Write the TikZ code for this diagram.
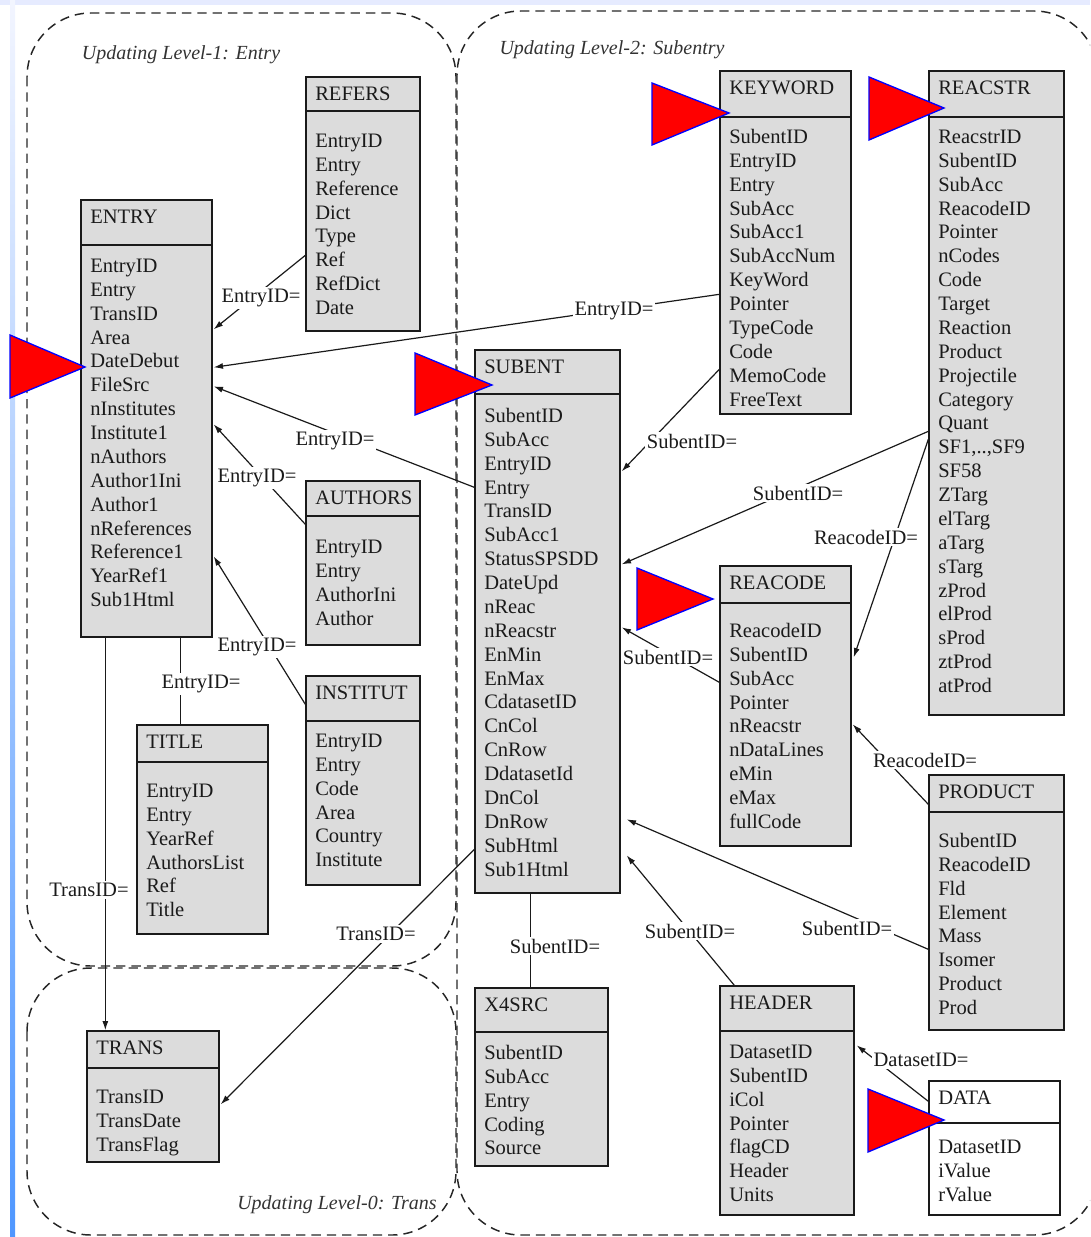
\documentclass[tikz,border=0pt]{standalone}
\usepackage{fontspec}
\setmainfont{Liberation Serif}
\usetikzlibrary{fit,calc,arrows.meta}
\definecolor{boxgray}{HTML}{DCDCDC}
\definecolor{inkc}{HTML}{1A1A1A}
\definecolor{stripblue}{HTML}{4F97FF}
\definecolor{bandblue}{HTML}{E6EBFF}
\tikzset{
  tbox/.style={draw=inkc, line width=1pt, inner sep=0pt},
  ttl/.style={anchor=base west, inner sep=0pt, text=inkc, font=\fontsize{15.4}{18}\selectfont},
  lbl/.style={fill=white, inner sep=1.5pt, text=inkc, font=\fontsize{15.4}{18}\selectfont},
  conn/.style={line width=0.9pt, draw=inkc},
  arr/.style={conn, -{Latex[length=7pt,width=4.5pt]}},
  region/.style={dash pattern=on 7pt off 4.5pt, line width=1.1pt, draw=black!85, rounded corners=48pt},
  flag/.style={fill=red, draw=blue, line width=1pt},
  regtitle/.style={inner sep=0pt, text=black!80, font=\fontsize{15}{18}\selectfont\itshape},
}
\def\dbparse#1/#2/#3/#4/#5/#6\relax{\def\dbL{#1}\def\dbT{#2}\def\dbR{#3}\def\dbB{#4}\def\dbS{#5}\def\dbF{#6}}
\newcommand\dbt[5][boxgray]{%
  \dbparse#3\relax
  \node[tbox, fill=#1, fit={(\dbL,\dbT) (\dbR,\dbB)}] (#2) {};
  \draw[tbox] (\dbL,\dbS) -- (\dbR,\dbS);
  \node[ttl] (#2-title) at (\dbL+9,\dbT+23.5) {#4};
  \foreach \rw [count=\i from 0] in {#5} {\node[ttl] (#2-r\i) at (\dbL+9,\dbF+6.5+\i*23.87) {\rw};}
}
\begin{document}
\begin{tikzpicture}[x=0.75pt,y=-0.75pt]
\useasboundingbox (0,0) rectangle (1090,1237);
\clip (0,0) rectangle (1090,1237);
% background bands
\fill[bandblue] (0,0) rectangle (1090,5);
\shade[top color=bandblue!50, bottom color=stripblue] (10,0) rectangle (15,1237);
% regions
\draw[region] (27,13) rectangle (456,966);
\draw[region] (27,968) rectangle (456,1235);
\draw[region] (457,11) rectangle (1098,1235);
\node[regtitle] (lev1) at (181,55) {Updating Level-1: Entry};
\node[regtitle] (lev2) at (612,50) {Updating Level-2: Subentry};
\node[regtitle] (lev0) at (337,1205) {Updating Level-0: Trans};
% tables
\dbt{entry}{81/200/212/637/245/266}{ENTRY}{EntryID,Entry,TransID,Area,DateDebut,FileSrc,nInstitutes,Institute1,nAuthors,Author1Ini,Author1,nReferences,Reference1,YearRef1,Sub1Html}
\dbt{refers}{306/77/420/331/111/141}{REFERS}{EntryID,Entry,Reference,Dict,Type,Ref,RefDict,Date}
\dbt{authors}{306/481/420/645/516/547}{AUTHORS}{EntryID,Entry,AuthorIni,Author}
\dbt{institut}{306/676/420/885/721/741}{INSTITUT}{EntryID,Entry,Code,Area,Country,Institute}
\dbt{title}{137/725/268/934/762/791}{TITLE}{EntryID,Entry,YearRef,AuthorsList,Ref,Title}
\dbt{trans}{87/1031/219/1162/1068/1097}{TRANS}{TransID,TransDate,TransFlag}
\dbt{subent}{475/350/620/893/394/416}{SUBENT}{SubentID,SubAcc,EntryID,Entry,TransID,SubAcc1,StatusSPSDD,DateUpd,nReac,nReacstr,EnMin,EnMax,CdatasetID,CnCol,CnRow,DdatasetId,DnCol,DnRow,SubHtml,Sub1Html}
\dbt{keyword}{720/71/851/414/117/137}{KEYWORD}{SubentID,EntryID,Entry,SubAcc,SubAcc1,SubAccNum,KeyWord,Pointer,TypeCode,Code,MemoCode,FreeText}
\dbt{reacstr}{929/71/1064/715/117/137}{REACSTR}{ReacstrID,SubentID,SubAcc,ReacodeID,Pointer,nCodes,Code,Target,Reaction,Product,Projectile,Category,Quant,{SF1,..,SF9},SF58,ZTarg,elTarg,aTarg,sTarg,zProd,elProd,sProd,ztProd,atProd}
\dbt{reacode}{720/566/851/846/603/631}{REACODE}{ReacodeID,SubentID,SubAcc,Pointer,nReacstr,nDataLines,eMin,eMax,fullCode}
\dbt{product}{929/775/1064/1030/812/841}{PRODUCT}{SubentID,ReacodeID,Fld,Element,Mass,Isomer,Product,Prod}
\dbt{x4src}{475/988/608/1166/1032/1053}{X4SRC}{SubentID,SubAcc,Entry,Coding,Source}
\dbt{header}{720/986/854/1215/1031/1052}{HEADER}{DatasetID,SubentID,iCol,Pointer,flagCD,Header,Units}
\dbt[white]{data}{929/1081/1060/1215/1123/1147}{DATA}{DatasetID,iValue,rValue}
% connectors
\draw[arr] ($(refers.north west)+(0,179)$) -- ($(entry.north east)+(1,130)$);
\draw[arr] ($(keyword.north west)+(0,224)$) -- ($(entry.north east)+(1,168)$);
\draw[arr] ($(subent.north west)+(0,138)$) -- ($(entry.north east)+(1,187)$);
\draw[arr] ($(authors.north west)+(0,44)$) -- ($(entry.north east)+(1,225)$);
\draw[arr] ($(institut.north west)+(0,29)$) -- ($(entry.north east)+(1,357)$);
\draw[conn] ($(title.north west)+(44,0)$) -- ($(entry.south west)+(100,0)$);
\draw[arr] ($(entry.south west)+(25,0)$) -- ($(trans.north west)+(19,0)$);
\draw[arr] ($(subent.north west)+(0,500)$) -- ($(trans.north east)+(1,74)$);
\draw[arr] ($(keyword.north west)+(0,299)$) -- ($(subent.north east)+(1,122)$);
\draw[arr] ($(reacstr.north west)+(0,361)$) -- ($(subent.north east)+(1,215)$);
\draw[arr] ($(reacstr.north west)+(0,369)$) -- ($(reacode.north east)+(2,92)$);
\draw[arr] ($(reacode.north west)+(0,117)$) -- ($(subent.north east)+(1,278)$);
\draw[arr] ($(product.north west)+(0,30)$) -- ($(reacode.north east)+(1,159)$);
\draw[arr] ($(product.north west)+(0,175)$) -- ($(subent.north east)+(6,470)$);
\draw[arr] ($(header.north west)+(15,0)$) -- ($(subent.north east)+(6,506)$);
\draw[conn] ($(x4src.north west)+(56,0)$) -- ($(subent.south west)+(56,0)$);
\draw[arr] ($(data.north west)+(0,21)$) -- ($(header.north east)+(2,60)$);
% connector labels
\node[lbl] (t1) at (261,298) {EntryID=};
\node[lbl] (t2) at (614,311) {EntryID=};
\node[lbl] (t3) at (335,441) {EntryID=};
\node[lbl] (t4) at (257,478) {EntryID=};
\node[lbl] (t5) at (257,647) {EntryID=};
\node[lbl] (t6) at (201,684) {EntryID=};
\node[lbl] (t7) at (89,890) {TransID=};
\node[lbl] (t8) at (376,934) {TransID=};
\node[lbl] (t9) at (692,441) {SubentID=};
\node[lbl] (t10) at (798,493) {SubentID=};
\node[lbl] (t11) at (866,537) {ReacodeID=};
\node[lbl] (t12) at (668,657) {SubentID=};
\node[lbl] (t13) at (925,760) {ReacodeID=};
\node[lbl] (t14) at (847,928) {SubentID=};
\node[lbl] (t15) at (690,931) {SubentID=};
\node[lbl] (t16) at (555,946) {SubentID=};
\node[lbl] (t17) at (921,1060) {DatasetID=};
% red flags
\filldraw[flag] (10,335) -- (10,398) -- (85,367) -- cycle;
\filldraw[flag] (415,353) -- (415,415) -- (492,385) -- cycle;
\filldraw[flag] (652,83) -- (652,145) -- (729,113) -- cycle;
\filldraw[flag] (869,77) -- (869,140) -- (944,108) -- cycle;
\filldraw[flag] (637,568) -- (637,630) -- (713,599) -- cycle;
\filldraw[flag] (868,1089) -- (868,1152) -- (944,1120) -- cycle;
\end{tikzpicture}
\end{document}
